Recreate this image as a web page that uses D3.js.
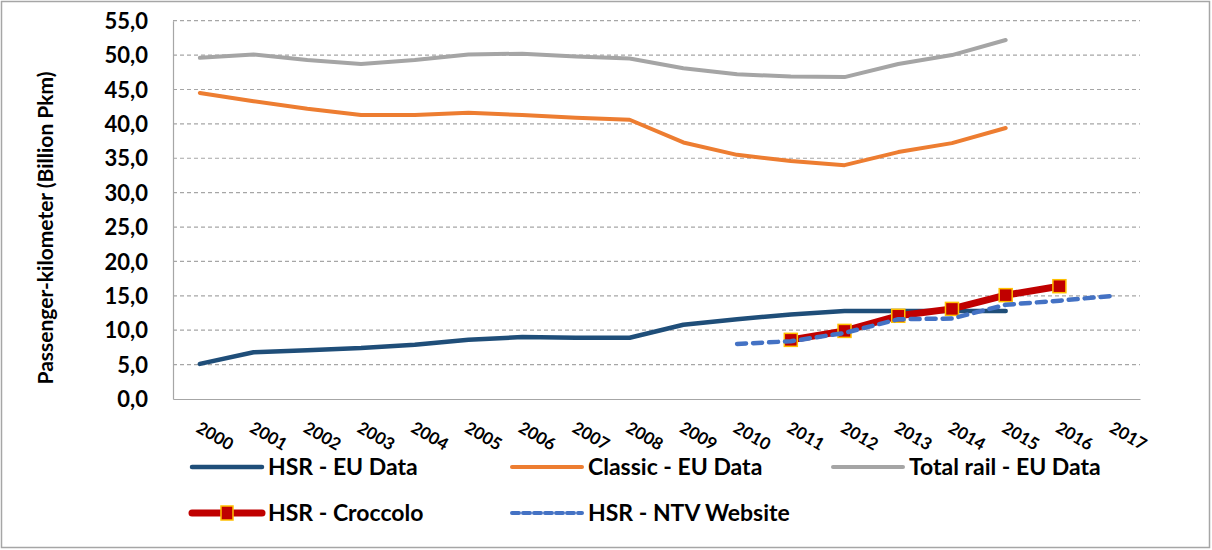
<!DOCTYPE html>
<html>
<head>
<meta charset="utf-8">
<script src="https://cdn.jsdelivr.net/npm/d3@7"></script>
<style>
  body { margin: 0; background: #fff; }
  svg text { font-family: Lato, "Open Sans", sans-serif; font-weight: bold; fill: #000; }
</style>
</head>
<body>
<div id="chart"></div>
<script>
var years = ['2000', '2001', '2002', '2003', '2004', '2005', '2006', '2007', '2008',
  '2009', '2010', '2011', '2012', '2013', '2014', '2015', '2016', '2017'];
var yTicks = [0, 5, 10, 15, 20, 25, 30, 35, 40, 45, 50, 55];

var hsrEu = [5.1, 6.8, 7.1, 7.4, 7.9, 8.6, 9.0, 8.9, 8.9, 10.8, 11.6, 12.3, 12.8, 12.8, 12.8, 12.8];
var classicEu = [44.5, 43.3, 42.2, 41.3, 41.3, 41.6, 41.3, 40.9, 40.6, 37.3, 35.5, 34.6, 34.0, 35.9, 37.2, 39.4];
var totalEu = [49.6, 50.1, 49.3, 48.7, 49.3, 50.1, 50.2, 49.8, 49.5, 48.1, 47.2, 46.9, 46.8, 48.7, 50.0, 52.2];
var croccoloYears = ['2011', '2012', '2013', '2014', '2015', '2016'];
var croccolo = [8.6, 9.9, 12.1, 13.1, 15.1, 16.4];
var ntvYears = ['2010', '2011', '2012', '2013', '2014', '2015', '2016', '2017'];
var ntv = [8.0, 8.4, 9.6, 11.6, 11.7, 13.7, 14.3, 15.0];

var w = 1212, h = 550;
var plotLeft = 173, plotRight = 1140, plotTop = 20.7, plotBottom = 399;

var svg = d3.select('#chart').append('svg')
  .attr('width', w)
  .attr('height', h);

svg.append('rect')
  .attr('x', 1.5).attr('y', 1.5)
  .attr('width', w - 4).attr('height', h - 4)
  .attr('fill', '#fff')
  .attr('stroke', '#a6a6a6')
  .attr('stroke-width', 1.5);

var x = d3.scaleBand().domain(years).range([plotLeft, plotRight]);
var y = d3.scaleLinear().domain([0, 55]).range([plotBottom, plotTop]);
var cx = function(yr) { return x(yr) + x.bandwidth() / 2; };

// gridlines
svg.append('g').selectAll('line')
  .data(yTicks.filter(function(d) { return d > 0; }))
  .enter().append('line')
  .attr('x1', plotLeft).attr('x2', plotRight)
  .attr('y1', function(d) { return y(d); })
  .attr('y2', function(d) { return y(d); })
  .attr('stroke', '#a6a6a6')
  .attr('stroke-width', 1.2)
  .attr('stroke-dasharray', '4,3');

// axes
var yaxis = d3.axisLeft(y).tickValues(yTicks).tickSize(0).tickPadding(25)
  .tickFormat(function(d) { return d3.format('.1f')(d).replace('.', ','); });
var gy = svg.append('g').attr('transform', 'translate(' + plotLeft + ',0)').call(yaxis);
gy.select('.domain').attr('stroke', '#a6a6a6').attr('stroke-width', 1.2);
gy.selectAll('text').style('font-size', '22px').attr('dy', '0.35em');

var xaxis = d3.axisBottom(x).tickSize(0).tickFormat('');
var gx = svg.append('g').attr('transform', 'translate(0,' + plotBottom + ')').call(xaxis);
gx.select('.domain').attr('stroke', '#a6a6a6').attr('stroke-width', 1.2);

svg.append('g').selectAll('text')
  .data(years)
  .enter().append('text')
  .attr('transform', function(d) { return 'translate(' + (cx(d) - 2) + ',' + (plotBottom + 27) + ') rotate(30)'; })
  .attr('dy', '0.35em')
  .style('font-size', '17px')
  .text(function(d) { return d; });

svg.append('text')
  .attr('transform', 'translate(53,228) rotate(-90)')
  .attr('text-anchor', 'middle')
  .style('font-size', '21px')
  .text('Passenger-kilometer (Billion Pkm)');

var line = d3.line()
  .x(function(d) { return cx(d[0]); })
  .y(function(d) { return y(d[1]); });

function pairs(xs, vs) {
  return vs.map(function(v, i) { return [xs[i], v]; });
}

var series = [
  { name: 'Total rail - EU Data', data: pairs(years, totalEu), color: '#a5a5a5', width: 4 },
  { name: 'Classic - EU Data', data: pairs(years, classicEu), color: '#ed7d31', width: 4 },
  { name: 'HSR - EU Data', data: pairs(years, hsrEu), color: '#1f4e79', width: 4.5 },
  { name: 'HSR - Croccolo', data: pairs(croccoloYears, croccolo), color: '#c00000', width: 7 },
  { name: 'HSR - NTV Website', data: pairs(ntvYears, ntv), color: '#4472c4', width: 4.5, dash: '9,7' }
];

series.forEach(function(s) {
  svg.append('path')
    .datum(s.data)
    .attr('d', line)
    .attr('fill', 'none')
    .attr('stroke', s.color)
    .attr('stroke-width', s.width)
    .attr('stroke-linejoin', 'round')
    .attr('stroke-linecap', 'round')
    .attr('stroke-dasharray', s.dash || null);
  if (s.name === 'HSR - Croccolo') {
    svg.append('g').selectAll('rect')
      .data(s.data)
      .enter().append('rect')
      .attr('x', function(d) { return cx(d[0]) - 6.5; })
      .attr('y', function(d) { return y(d[1]) - 6.5; })
      .attr('width', 13).attr('height', 13)
      .attr('fill', '#c00000')
      .attr('stroke', '#ffc000')
      .attr('stroke-width', 1.5);
  }
});

// legend
var legendItems = [
  { name: 'HSR - EU Data', color: '#1f4e79', width: 4.5, lx: 192, ly: 467 },
  { name: 'Classic - EU Data', color: '#ed7d31', width: 4, lx: 512, ly: 467 },
  { name: 'Total rail - EU Data', color: '#a5a5a5', width: 4, lx: 833, ly: 467 },
  { name: 'HSR - Croccolo', color: '#c00000', width: 7, lx: 192, ly: 513, marker: true },
  { name: 'HSR - NTV Website', color: '#4472c4', width: 4, lx: 512, ly: 513, dash: '7,4' }
];

var lg = svg.append('g').selectAll('g')
  .data(legendItems)
  .enter().append('g')
  .attr('transform', function(d) { return 'translate(' + d.lx + ',' + d.ly + ')'; });

lg.append('line')
  .attr('x1', 0).attr('x2', 70).attr('y1', 0).attr('y2', 0)
  .attr('stroke', function(d) { return d.color; })
  .attr('stroke-width', function(d) { return d.width; })
  .attr('stroke-linecap', 'round')
  .attr('stroke-dasharray', function(d) { return d.dash || null; });

lg.filter(function(d) { return d.marker; }).append('rect')
  .attr('x', 29).attr('y', -7).attr('width', 12).attr('height', 14)
  .attr('fill', '#c00000').attr('stroke', '#ffc000').attr('stroke-width', 1.5);

lg.append('text')
  .attr('x', 76)
  .attr('dy', '0.35em')
  .style('font-size', '23px')
  .text(function(d) { return d.name; });
</script>
</body>
</html>
